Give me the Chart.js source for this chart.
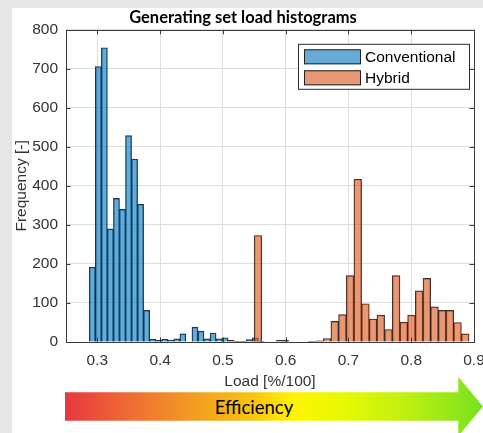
<!DOCTYPE html>
<html>
<head>
<meta charset="utf-8">
<script src="https://cdn.jsdelivr.net/npm/chart.js@4/dist/chart.umd.min.js"></script>
<style>
html,body{margin:0;padding:0;width:483px;height:433px;overflow:hidden;background:#e6e6e6;}
#panel{position:absolute;left:12px;top:8px;right:0;bottom:0;background:#fff;}
#c{position:absolute;left:0;top:0;}
#arrow{position:absolute;left:65px;top:377px;width:418px;height:59px;
  clip-path:polygon(0 15.3px,393.3px 15.3px,393.3px 0,418px 29.5px,393.3px 59px,393.3px 43.7px,0 43.7px);
  background:linear-gradient(to right,#e8373f 0%,#ef6a33 15%,#f39a24 30%,#f9c40f 45%,#fff500 55%,#e6f805 67%,#c4f10f 80%,#9ee918 90%,#74e21e 100%);}
#arrow span{position:absolute;left:189px;top:29.5px;transform:translate(-50%,-50%);
  font-family:Lato,sans-serif;font-size:18.5px;color:#000;white-space:nowrap;}
</style>
</head>
<body>
<div id="panel"></div>
<canvas id="c" width="483" height="433"></canvas>
<div id="arrow"><span>Efficiency</span></div>
<script>
// ---- data ----
const titleText = 'Generating set load histograms';
const xLabel = 'Load [%/100]';
const yLabel = 'Frequency [-]';
const seriesNames = ['Conventional', 'Hybrid'];

// Conventional histogram: bin start, bin width, counts
const convStart = 0.2871;
const convWidth = 0.00962;
const convCounts = [192, 706, 754, 290, 368, 340, 529, 469, 353, 81,
                    7, 4, 7, 5, 8, 21, 0, 38, 28, 8,
                    23, 8, 11, 4, 1, 1, 6, 11, 1, 0,
                    0, 5, 4];

// Hybrid histogram: bin start, bin width, counts
const hybStart = 0.5497;
const hybWidth = 0.01223;
const hybCounts = [273, 0, 0, 0, 0, 0, 0, 2, 3, 9,
                   53, 70, 170, 417, 98, 59, 69, 32, 170, 51,
                   69, 131, 163, 90, 81, 81, 50, 21];

const xTicks = [0.3, 0.4, 0.5, 0.6, 0.7, 0.8, 0.9];
const yTicks = [0, 100, 200, 300, 400, 500, 600, 700, 800];

const xMin = 0.25, xMax = 0.9, yMin = 0, yMax = 800;

// ---- helpers ----
function binPoints(start, width, counts) {
  return counts.map((c, i) => ({ x: start + (i + 0.5) * width, y: c }));
}
const setXTicks = a => { a.ticks = xTicks.map(v => ({ value: v })); };
const setYTicks = a => { a.ticks = yTicks.map(v => ({ value: v })); };

const axisColor = '#3a3a3a';
const tickFont = { family: '"Liberation Sans", Arial, sans-serif', size: 15.5 };

const boxPlugin = {
  id: 'axesBox',
  afterDatasetsDraw(chart) {
    const { ctx, chartArea: a, scales } = chart;
    ctx.save();
    ctx.strokeStyle = axisColor;
    ctx.lineWidth = 1;
    const tl = 4.5;
    ctx.beginPath();
    scales.x.ticks.forEach(t => {
      const px = Math.round(scales.x.getPixelForValue(t.value)) + 0.5;
      ctx.moveTo(px, a.bottom); ctx.lineTo(px, a.bottom - tl);
      ctx.moveTo(px, a.top); ctx.lineTo(px, a.top + tl);
    });
    scales.y.ticks.forEach(t => {
      const py = Math.round(scales.y.getPixelForValue(t.value)) + 0.5;
      ctx.moveTo(a.left, py); ctx.lineTo(a.left + tl, py);
      ctx.moveTo(a.right, py); ctx.lineTo(a.right - tl, py);
    });
    ctx.stroke();
    ctx.strokeRect(Math.round(a.left) + 0.5, Math.round(a.top) + 0.5,
                   Math.round(a.right - a.left), Math.round(a.bottom - a.top));
    ctx.restore();
  }
};

const legendPlugin = {
  id: 'boxLegend',
  afterDraw(chart) {
    const { ctx, chartArea: a } = chart;
    const w = 172, h = 46;
    const x = a.right - 4 - w, y = a.top + 14;
    ctx.save();
    ctx.fillStyle = '#fff';
    ctx.fillRect(x, y, w, h);
    ctx.strokeStyle = '#2a2a2a';
    ctx.lineWidth = 1;
    ctx.strokeRect(x + 0.5, y + 0.5, w - 1, h - 1);
    ctx.font = '15.5px "Liberation Sans", Arial, sans-serif';
    ctx.textBaseline = 'middle';
    ctx.textAlign = 'left';
    chart.data.datasets.forEach((ds, i) => {
      const cy = y + 13 + i * 21;
      ctx.fillStyle = ds.backgroundColor;
      ctx.fillRect(x + 6, cy - 7.5, 57, 15);
      ctx.strokeStyle = '#222';
      ctx.strokeRect(x + 6.5, cy - 7, 56, 14);
      ctx.fillStyle = '#000';
      ctx.fillText(ds.label, x + 67, cy + 0.5);
    });
    ctx.restore();
  }
};

const hiddenX = { type: 'linear', min: xMin, max: xMax, display: false, offset: false,
                  grid: { offset: false }, afterBuildTicks: setXTicks };

new Chart(document.getElementById('c'), {
  type: 'bar',
  data: {
    datasets: [
      {
        label: seriesNames[0],
        data: binPoints(convStart, convWidth, convCounts),
        xAxisID: 'xc',
        backgroundColor: 'rgba(0,114,189,0.6)',
        borderColor: 'rgba(20,20,20,0.9)',
        borderWidth: 0.75,
        barPercentage: 1,
        categoryPercentage: 1,
        grouped: false,
        order: 2
      },
      {
        label: seriesNames[1],
        data: binPoints(hybStart, hybWidth, hybCounts),
        xAxisID: 'xh',
        backgroundColor: 'rgba(217,83,25,0.6)',
        borderColor: 'rgba(20,20,20,0.9)',
        borderWidth: 0.75,
        barPercentage: 1,
        categoryPercentage: 1,
        grouped: false,
        order: 1
      }
    ]
  },
  options: {
    responsive: false,
    animation: false,
    devicePixelRatio: 1,
    layout: { padding: { left: 12, right: 9, top: 8, bottom: 41 } },
    plugins: {
      legend: { display: false },
      tooltip: { enabled: false },
      title: {
        display: true,
        text: titleText,
        color: '#000',
        font: { family: 'Lato, sans-serif', weight: 'bold', size: 16.5, lineHeight: 1.2 },
        padding: { top: 0, bottom: 2 }
      }
    },
    scales: {
      x: {
        type: 'linear', position: 'bottom', min: xMin, max: xMax, offset: false,
        afterBuildTicks: setXTicks,
        afterFit: a => { a.height = 50; a.paddingLeft = 0; a.paddingRight = 0; },
        grid: { color: '#dedede', drawTicks: false, lineWidth: 1, offset: false },
        border: { display: false },
        ticks: { color: '#333', font: tickFont, padding: 9, maxRotation: 0, autoSkip: false,
                 callback: v => String(v) },
        title: { display: true, text: xLabel, color: '#333', font: tickFont,
                 padding: { top: 0, bottom: 1 } }
      },
      xc: hiddenX,
      xh: Object.assign({}, hiddenX),
      y: {
        type: 'linear', position: 'left', min: yMin, max: yMax,
        afterBuildTicks: setYTicks,
        afterFit: a => { a.width = 54; a.paddingTop = 0; a.paddingBottom = 0; },
        grid: { color: '#dedede', drawTicks: false, lineWidth: 1 },
        border: { display: false },
        ticks: { color: '#333', font: tickFont, padding: 8 },
        title: { display: true, text: yLabel, color: '#333', font: tickFont,
                 padding: { top: 0, bottom: 0 } }
      }
    }
  },
  plugins: [boxPlugin, legendPlugin]
});
</script>
</body>
</html>
